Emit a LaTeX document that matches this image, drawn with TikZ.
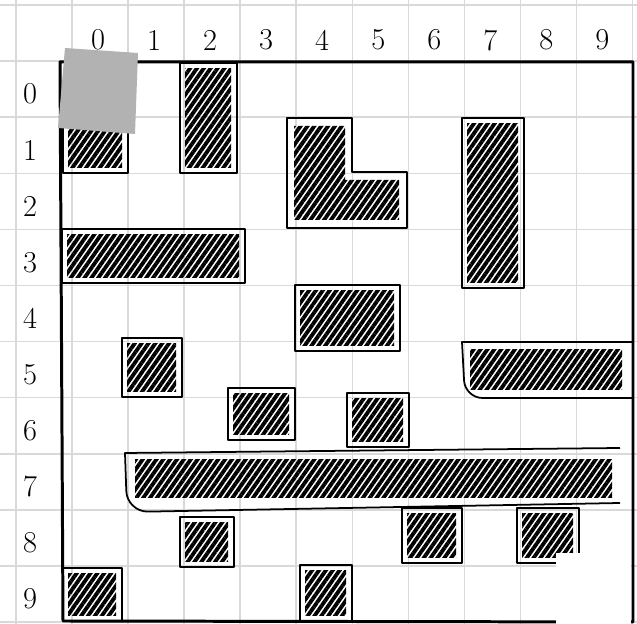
\documentclass[tikz,border=0pt]{standalone}
\usetikzlibrary{patterns.meta}

\begin{document}
\begin{tikzpicture}[x=0.02cm, y=-0.02cm,
  paper/.style={draw=black!15, line width=0.9pt},
  frame/.style={draw, line width=1.7pt, line join=round},
  wall/.style={draw, line width=1pt, line join=round},
  hatch/.style={pattern={Lines[angle=55, distance=3.2pt, line width=2.2pt]}},
  lbl/.style={font=\LARGE}
]
  \useasboundingbox (0,0) rectangle (637,624);
  % paper grid
  \foreach \i in {0,...,11} {
    \draw[paper] ({16+56.05*\i},0) -- ({16+56.05*\i},624);
    \draw[paper] (0,{5+56.1*\i}) -- (637,{5+56.1*\i});
  }
  % labels
  \foreach \c in {0,...,9}
    \node[lbl] (c\c) at ({98+56.05*\c},40) {\c};
  \foreach \r in {0,...,9}
    \node[lbl] (r\r) at (30,{94+56.1*\r}) {\r};
  % blocked cells
  \foreach \xa/\ya/\xb/\yb in {63/117/128/173, 180/63/237/173, 62/229/245/283,
      462/118/524/288, 295/285/400/351, 122/338/182/397, 228/388/295/440,
      347/393/409/447, 180/517/234/567, 402/508/462/563, 517/508/579/563,
      63/568/122/621, 300/565/352/621} {
    \draw[wall] (\xa,\ya) rectangle (\xb,\yb);
    \fill[hatch] ({\xa+5},{\ya+6}) rectangle ({\xb-6},{\yb-5});
  }
  \draw[wall] (287,118) -- (352,118) -- (352,172) -- (407,172) -- (407,228)
    -- (287,228) -- cycle;
  \fill[hatch] (294,126) -- (345,126) -- (345,180) -- (399,180) -- (399,220)
    -- (294,220) -- cycle;
  \draw[wall] (632,342) -- (462,342) [rounded corners=10pt] -- (465,398) -- (632,398);
  \fill[hatch] (470,350) rectangle (622,390);
  \draw[wall] (620,448) -- (125,453) [rounded corners=12pt] -- (127,512) -- (620,503);
  \fill[hatch] (135,460) rectangle (612,498);
  % outer frame
  \draw[frame] (60,62) -- (633,62) -- (633,622) -- (63,621) -- cycle;
  % start cell
  \fill[black!30] (65,48) -- (138,53) -- (135,134) -- (58,128) -- cycle;
  % goal corner
  \fill[white] (556,553) rectangle (631,624);
\end{tikzpicture}
\end{document}
